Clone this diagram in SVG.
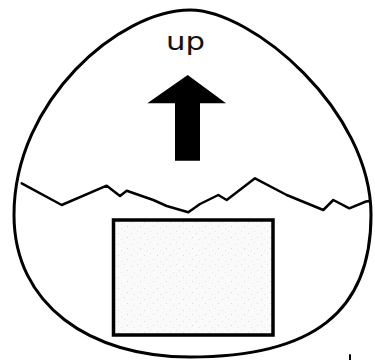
<svg xmlns="http://www.w3.org/2000/svg" width="375" height="360" viewBox="0 0 375 360">
  <style>
    .line { fill: none; stroke: #000; stroke-linejoin: round; stroke-linecap: round; }
    .label { font-family: "DejaVu Sans", "Liberation Sans", sans-serif; font-size: 25px; fill: #111; }
  </style>
  <defs>
    <pattern id="speckle" width="13" height="11" patternUnits="userSpaceOnUse">
      <rect width="13" height="11" fill="#fafafa"/>
      <rect x="1" y="2" width="1" height="1" fill="#dadada"/>
      <rect x="7" y="0" width="1" height="1" fill="#e2e2e2"/>
      <rect x="10" y="6" width="1" height="1" fill="#d6d6d6"/>
      <rect x="4" y="8" width="1" height="1" fill="#e4e4e4"/>
    </pattern>
  </defs>
  <rect width="375" height="360" fill="#fff"/>
  <g id="egg">
    <path class="line" stroke-width="3" d="M190,10 C252,10 371,110 371,215 C371,312 313,357 190,357 C90,357 14,305 14,215 C14,100 120,10 190,10 Z"/>
  </g>
  <g id="horizon">
    <polyline class="line" stroke-width="2.5" points="21.7,183.3 61.7,205 106.7,185.7 120,196 126.7,190.7 153.3,200 166.7,206 188.3,212.3 200,204 218.3,195 226.7,200 255,178.3 286.7,195 323.3,210 333.3,200 349.3,208.3 366,201.5 370,201"/>
  </g>
  <g id="label-up">
    <text class="label" x="166" y="50" textLength="39" lengthAdjust="spacingAndGlyphs">up</text>
  </g>
  <g id="arrow">
    <polygon fill="#000" points="187.7,75 226,103.3 200,103.3 200,160.7 175,160.7 175,103.3 147.3,103.3"/>
  </g>
  <g id="box">
    <rect x="113.5" y="220" width="159.5" height="115" fill="url(#speckle)" stroke="#000" stroke-width="3.5"/>
  </g>
  <g id="mark">
    <line class="line" x1="350" y1="355" x2="350" y2="360" stroke-width="2"/>
  </g>
</svg>
